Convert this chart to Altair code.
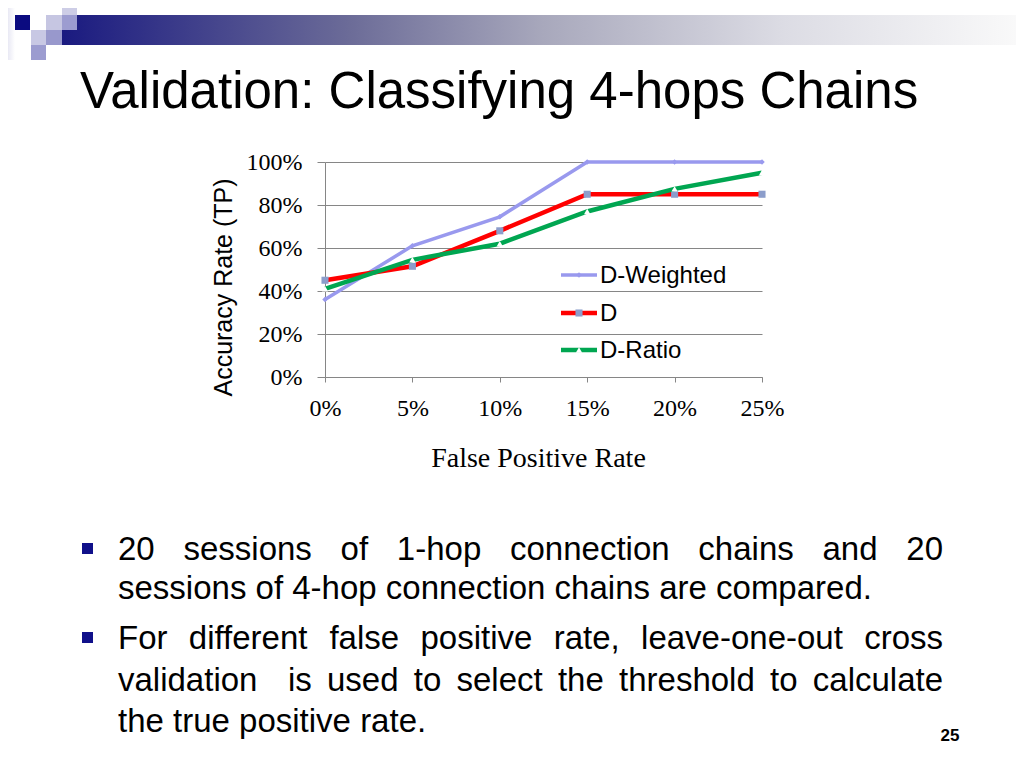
import altair as alt
import pandas as pd

# ---------------- chart data ----------------
fpr = [0, 5, 10, 15, 20, 25]
d_weighted = [36, 61, 74.5, 100, 100, 100]
d_plain = [45, 51.5, 68, 85, 85, 85]
d_ratio = [41, 54.5, 62, 77, 87.5, 95]
series_names = ["D-Weighted", "D", "D-Ratio"]
series_values = [d_weighted, d_plain, d_ratio]
line_colors = ["#9999EE", "#FF0000", "#00A651"]
line_widths = [3.5, 4.5, 4.5]
marker_shapes = ["diamond", "square", "triangle-up"]
marker_fills = ["#9999EE", "#8C9DCB", "#FFFFFF"]
marker_sizes = [30, 50, 40]
x_ticks = [0, 5, 10, 15, 20, 25]
y_ticks = [0, 20, 40, 60, 80, 100]

slide_title = "Validation: Classifying 4-hops Chains"
y_title = "Accuracy Rate (TP)"
x_title = "False Positive Rate"
bullet_lines = [
    "20 sessions of 1-hop connection chains and 20",
    "sessions of 4-hop connection chains are compared.",
    "For different false positive rate, leave-one-out cross",
    "validation  is used to select the threshold to calculate",
    "the true positive rate.",
]
bullet_justified = [True, False, True, True, False]
page_number = "25"

# ---------------- page geometry ----------------
PAD_L, PAD_T, W, H = 317, 154, 437, 215
PAD_R, PAD_B = 1008 - PAD_L - W, 752 - PAD_T - H
OX, OY = 8 + PAD_L, 8 + PAD_T  # page position of the plot origin


def px(x):
    return x - OX


def py(y):
    return y - OY


# Arial / Liberation Sans advance widths (per 1000 em)
AW = {" ": 278, ",": 278, "-": 333, ".": 278, ":": 278, "(": 333, ")": 333,
      "F": 611, "a": 556, "b": 556, "c": 500, "d": 556, "e": 556, "f": 278,
      "g": 556, "h": 556, "i": 222, "l": 222, "m": 833, "n": 556, "o": 556,
      "p": 556, "r": 333, "s": 500, "t": 278, "u": 556, "v": 500, "y": 500}


def tw(s, fs):
    return sum(AW.get(ch, 556) for ch in s) * fs / 1000.0


# ---------------- data layers ----------------
x_enc = alt.X("fpr:Q", scale=alt.Scale(domain=[0, 25], nice=False),
              axis=alt.Axis(values=x_ticks, labelExpr="datum.value + '%'",
                            grid=False, domainColor="#868686", tickColor="#868686",
                            tickSize=5, labelPadding=14, labelFont="Liberation Serif",
                            labelFontSize=24, labelColor="#000000",
                            labelFlush=False, labelOverlap=False, labelBound=False,
                            title=x_title, titleFont="Liberation Serif", titleFontSize=28,
                            titleFontWeight="normal", titleColor="#000000",
                            titleX=px(538), titleY=466 - (OY + H), titleAlign="center",
                            titleBaseline="alphabetic"))
y_enc = alt.Y("acc:Q", scale=alt.Scale(domain=[0, 100], nice=False),
              axis=alt.Axis(values=y_ticks, labelExpr="datum.value + '%'",
                            grid=True, gridColor="#868686", domainColor="#868686",
                            tickColor="#868686", tickSize=8, labelPadding=15,
                            labelFont="Liberation Serif", labelFontSize=24,
                            labelColor="#000000", labelFlush=False, labelOverlap=False,
                            title=y_title, titleFont="Liberation Sans", titleFontSize=25,
                            titleFontWeight="normal", titleColor="#000000",
                            titleX=231 - OX, titleY=py(287), titleAngle=270,
                            titleAlign="center", titleBaseline="alphabetic"))

series_layers = []
for i, name in enumerate(series_names):
    df = pd.DataFrame({"fpr": fpr, "acc": series_values[i], "series": name})
    base = alt.Chart(df).encode(x=x_enc, y=y_enc)
    series_layers.append(base.mark_line(color=line_colors[i], strokeWidth=line_widths[i]))
    series_layers.append(base.mark_point(shape=marker_shapes[i], filled=True,
                                         color=marker_fills[i], size=marker_sizes[i],
                                         opacity=1))
data_chart = alt.layer(*series_layers)

# ---------------- decorations ----------------
def pos_rect():
    return dict(x=alt.X("x0:Q", scale=None, axis=None), x2="x1:Q",
                y=alt.Y("y0:Q", scale=None, axis=None), y2="y1:Q")


# header squares
sq = [(15, 15, 30, 30, "#0B0B80"), (62, 0, 77, 15, "#CDCDE6"),
      (46, 15, 62, 30, "#C6C6E2"), (62, 15, 77, 30, "#9C9CD0"),
      (31, 30, 46, 45, "#C8C8E4"), (46, 30, 62, 45, "#9898CC"),
      (31, 45, 46, 60, "#9C9CD0")]
sq_df = pd.DataFrame({"x0": [px(s[0]) for s in sq], "x1": [px(s[2]) for s in sq],
                      "y0": [py(s[1]) for s in sq], "y1": [py(s[3]) for s in sq],
                      "c": [s[4] for s in sq]})
squares = alt.Chart(sq_df).mark_rect().encode(
    color=alt.Color("c:N", scale=None, legend=None), **pos_rect())

bar_df = pd.DataFrame({"x0": [px(62)], "x1": [px(1024)], "y0": [py(15)], "y1": [py(45)]})
bar = alt.Chart(bar_df).mark_rect(color=alt.LinearGradient(
    gradient="linear", x1=0, x2=1, y1=0, y2=0,
    stops=[alt.GradientStop(color="#1A1A80", offset=0),
           alt.GradientStop(color="#6C6C98", offset=0.3),
           alt.GradientStop(color="#A8A8BC", offset=0.5),
           alt.GradientStop(color="#DCDCE4", offset=0.75),
           alt.GradientStop(color="#FAFAFA", offset=1)])).encode(**pos_rect())

edge_df = pd.DataFrame({"x0": [px(0)], "x1": [px(15)], "y0": [py(0)], "y1": [py(60)]})
edge = alt.Chart(edge_df).mark_rect(color=alt.LinearGradient(
    gradient="linear", x1=0, x2=1, y1=0, y2=0,
    stops=[alt.GradientStop(color="#D0D0E8", offset=0),
           alt.GradientStop(color="#FFFFFF", offset=1)])).encode(**pos_rect())

# bullets
bl_df = pd.DataFrame({"x0": [px(82), px(82)], "x1": [px(93), px(93)],
                      "y0": [py(543), py(632)], "y1": [py(554), py(643)]})
bullets = alt.Chart(bl_df).mark_rect(color="#10108A").encode(**pos_rect())

# title
title_df = pd.DataFrame({"t": [slide_title], "x": [px(80)], "y": [py(108)]})
title = alt.Chart(title_df).mark_text(
    align="left", baseline="alphabetic", font="Liberation Sans", fontSize=51,
    color="#000000").encode(x=alt.X("x:Q", scale=None, axis=None),
                            y=alt.Y("y:Q", scale=None, axis=None), text="t:N")

# body text (justified lines laid out word by word)
FS = 33
LEFT, RIGHT = 118, 943
baselines = [560, 599, 649, 691, 732]
words, wx, wy = [], [], []
for line, just, base_y in zip(bullet_lines, bullet_justified, baselines):
    if not just:
        words.append(line); wx.append(px(LEFT)); wy.append(py(base_y))
        continue
    tokens = line.split(" ")
    n_sp = len(tokens) - 1
    gap = (RIGHT - LEFT - sum(tw(t, FS) for t in tokens)) / n_sp
    x = LEFT
    for t in tokens:
        if t:
            words.append(t); wx.append(px(x)); wy.append(py(base_y))
        x += tw(t, FS) + gap
body_df = pd.DataFrame({"t": words, "x": wx, "y": wy})
body = alt.Chart(body_df).mark_text(
    align="left", baseline="alphabetic", font="Liberation Sans", fontSize=FS,
    color="#000000").encode(x=alt.X("x:Q", scale=None, axis=None),
                            y=alt.Y("y:Q", scale=None, axis=None), text="t:N")

pn_df = pd.DataFrame({"t": [page_number], "x": [px(950)], "y": [py(741)]})
page_no = alt.Chart(pn_df).mark_text(
    align="center", baseline="alphabetic", font="Liberation Sans", fontSize=17,
    fontWeight="bold", color="#000000").encode(
    x=alt.X("x:Q", scale=None, axis=None), y=alt.Y("y:Q", scale=None, axis=None),
    text="t:N")

# legend (drawn inside the plot)
leg_y = [275, 313, 350]
leg_df = pd.DataFrame({"name": series_names, "x0": [px(561)] * 3, "x1": [px(597)] * 3,
                       "xm": [px(579)] * 3, "xl": [px(600)] * 3,
                       "y": [py(v) for v in leg_y], "yl": [py(v + 8) for v in leg_y],
                       "lc": line_colors, "mf": marker_fills,
                       "sh": marker_shapes, "sw": line_widths, "ms": marker_sizes})
leg_rules = alt.Chart(leg_df).mark_rule().encode(
    x=alt.X("x0:Q", scale=None, axis=None), x2="x1:Q",
    y=alt.Y("y:Q", scale=None, axis=None),
    color=alt.Color("lc:N", scale=None, legend=None),
    strokeWidth=alt.StrokeWidth("sw:Q", scale=None, legend=None))
leg_pts = alt.Chart(leg_df).mark_point(filled=True, opacity=1).encode(
    x=alt.X("xm:Q", scale=None, axis=None), y=alt.Y("y:Q", scale=None, axis=None),
    color=alt.Color("mf:N", scale=None, legend=None),
    shape=alt.Shape("sh:N", scale=None, legend=None),
    size=alt.Size("ms:Q", scale=None, legend=None))
leg_text = alt.Chart(leg_df).mark_text(
    align="left", baseline="alphabetic", font="Liberation Sans", fontSize=24,
    color="#000000").encode(x=alt.X("xl:Q", scale=None, axis=None),
                            y=alt.Y("yl:Q", scale=None, axis=None), text="name:N")

chart = alt.layer(
    edge, bar, squares, bullets, title, body, page_no,
    data_chart, leg_rules, leg_pts, leg_text
).resolve_scale(
    x="independent", y="independent", color="independent",
    shape="independent", size="independent", strokeWidth="independent"
).properties(
    width=W, height=H,
    padding={"left": PAD_L, "top": PAD_T, "right": PAD_R, "bottom": PAD_B},
    autosize=alt.AutoSizeParams(type="none"),
    background="#FFFFFF",
).configure_view(strokeWidth=0)

chart.save("out.html", embed_options={"renderer": "svg", "actions": False})
